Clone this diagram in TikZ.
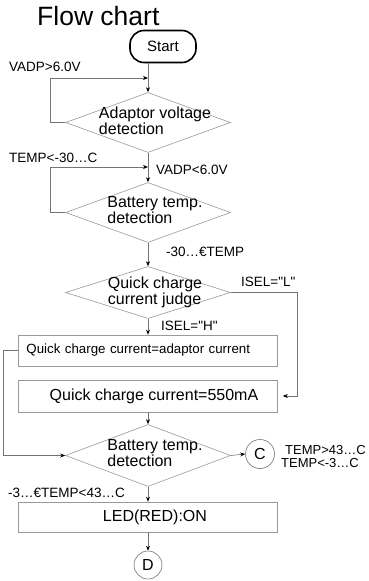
\documentclass[tikz,border=0pt]{standalone}
\usepackage{fontspec}
\setmainfont{Liberation Sans}
\usetikzlibrary{shapes.geometric,arrows.meta}
\definecolor{linec}{gray}{0.45}
\definecolor{boxc}{gray}{0.6}
\newcommand{\dtwo}[2]{\begin{tabular}{@{\hspace{14pt}}l@{}}#1\\#2\end{tabular}}

\begin{document}
\begin{tikzpicture}[x=1pt,y=-1pt,>={Stealth[length=5pt,width=4pt,color=black]},
  flow/.style={draw=linec,line width=0.6pt},
  dec/.style={diamond,draw=boxc,line width=0.6pt,aspect=2.75,inner xsep=-40pt,inner ysep=-14pt,minimum width=165pt,minimum height=#1,font=\fontsize{16}{15}\selectfont},
  dec/.default=60pt,
  proc/.style={draw=boxc,line width=0.6pt,minimum width=259pt,minimum height=#1,inner sep=0pt,font=\fontsize{16}{16}\selectfont},
  proc/.default=31pt,
  conn/.style={circle,draw=linec,line width=0.6pt,minimum size=29pt,inner sep=0pt,font=\fontsize{16}{16}\selectfont},
  lbl/.style={anchor=west,inner sep=0pt,font=\fontsize{13.5}{14}\selectfont}]
\useasboundingbox (0,0) rectangle (368,581);
% boxes
\node[anchor=base west,inner sep=0pt,font=\fontsize{26.5}{28}\selectfont] (title) at (37,25) {Flow chart};
\node[draw,line width=1.6pt,rounded corners=14pt,minimum width=66pt,minimum height=32pt,font=\fontsize{15}{15}\selectfont] (start) at (163,46.5) {Start};
\node[dec] (adp) at (148,122.5) {\dtwo{Adaptor voltage}{detection}};
\node[dec] (bt1) at (148,212.5) {\dtwo{Battery temp.}{detection}};
\node[dec=52pt] (qcj) at (148,292.5) {\dtwo{Quick charge}{current judge}};
\node[proc,text width=243pt,align=left,font=\fontsize{13.3}{14}\selectfont] (qca) at (148,350.5) {Quick charge current=adaptor current};
\node[proc=32pt] (qc5) at (148,396) {\hspace*{12pt}Quick charge current=550mA};
\node[dec=62pt] (bt2) at (148,455.5) {\dtwo{Battery temp.}{detection}};
\node[conn] (c) at (260,454) {C};
\node[proc=30pt] (led) at (148,517) {\hspace*{14pt}LED(RED):ON};
\node[conn,minimum size=28pt] (d) at (148,565) {D};
\coordinate (j1) at (148,78);
\coordinate (j2) at (148,167);
% connectors
\draw[flow,->] (start.south -| adp.north) -- (adp.north);
\draw[flow,->] (adp.west) -- ++(-15,0) |- (j1);
\draw[flow,->] (adp.south) -- (bt1.north);
\draw[flow,->] (bt1.west) -- ++(-15,0) |- (j2);
\draw[flow,->] (bt1.south) -- (qcj.north);
\draw[flow,->] (qcj.south) -- (qca.north);
\draw[flow,->,shorten >=5pt] (qcj.east) -- ++(66,0) |- (qc5.east);
\draw[flow,->] (qca.west) -- ++(-15,0) |- (bt2.west);
\draw[flow,->] (qc5.south) -- (bt2.north);
\draw[flow,->] (bt2.east) -- (c.west);
\draw[flow,->] (bt2.south) -- (led.north);
\draw[flow,->] (led.south) -- (d.north);
% labels
\node[lbl] (l1) at (9,67) {VADP>6.0V};
\node[lbl] (l2) at (9,158) {TEMP<-30…C};
\node[lbl] (l3) at (156,170) {VADP<6.0V};
\node[lbl] (l4) at (166,252) {-30…€TEMP};
\node[lbl] (l5) at (241,282) {ISEL=\textquotedbl L\textquotedbl};
\node[lbl] (l6) at (161,326) {ISEL=\textquotedbl H\textquotedbl};
\node[lbl,font=\fontsize{13}{13}\selectfont] (l7) at (285,450) {TEMP>43…C};
\node[lbl,font=\fontsize{13}{13}\selectfont] (l8) at (281,463.5) {TEMP<-3…C};
\node[lbl] (l9) at (8,493) {-3…€TEMP<43…C};
\end{tikzpicture}
\end{document}
